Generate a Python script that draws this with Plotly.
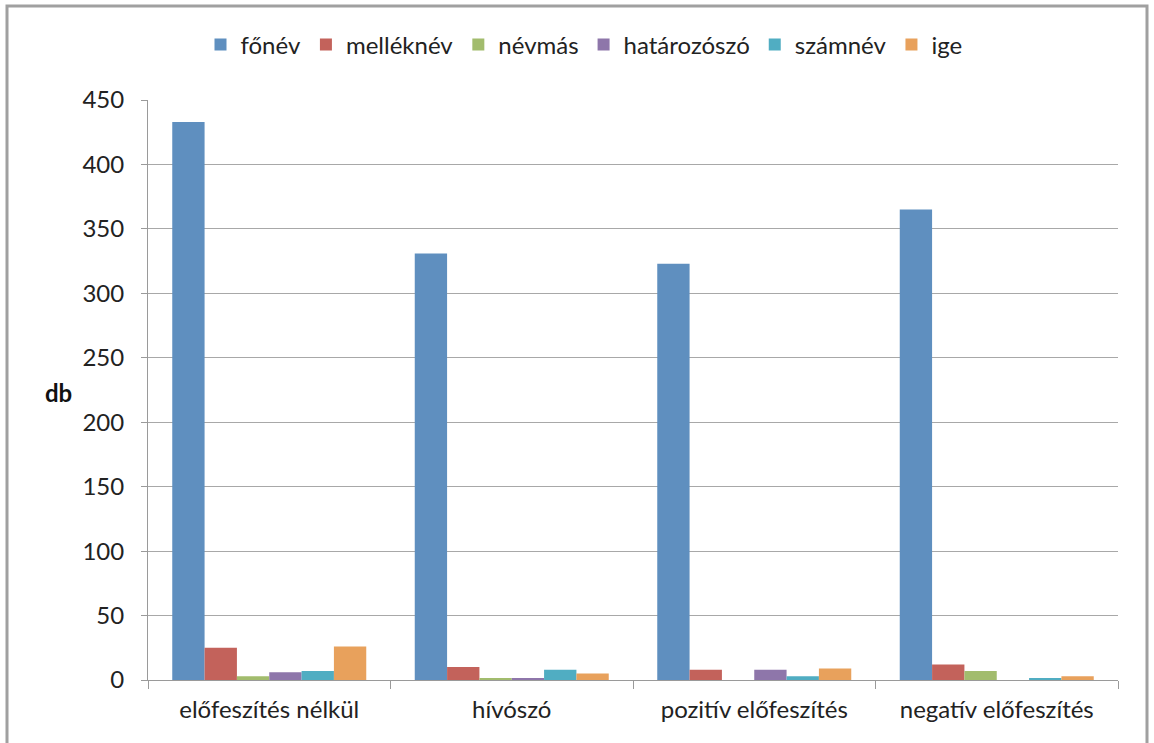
import plotly.graph_objects as go

categories = ["előfeszítés nélkül", "hívószó", "pozitív előfeszítés", "negatív előfeszítés"]
series_names = ["főnév", "melléknév", "névmás", "határozószó", "számnév", "ige"]
fonev = [433, 331, 323, 365]
melleknev = [25, 10, 8, 12]
nevmas = [3, 1, 0, 7]
hatarozoszo = [6, 1, 8, 0]
szamnev = [7, 8, 3, 1]
ige = [26, 5, 9, 3]
y_ticks = [0, 50, 100, 150, 200, 250, 300, 350, 400, 450]
y_title = "db"

series_values = [fonev, melleknev, nevmas, hatarozoszo, szamnev, ige]
colors = ["#5F8FBF", "#C3625B", "#A2BC6D", "#8E76AA", "#50ADC2", "#E8A15C"]

W, H = 1154, 743
L, R, T, B = 148, 36, 100, 63
pw, ph = W - L - R, H - T - B

fig = go.Figure()
for name, vals, c in zip(series_names, series_values, colors):
    fig.add_trace(go.Bar(name=name, x=categories, y=vals, marker_color=c,
                         marker_line_width=0))

font = "Lato, 'Open Sans', sans-serif"
fs = 24
fig.update_layout(
    width=W, height=H,
    margin=dict(l=L, r=R, t=T, b=B),
    paper_bgcolor="white", plot_bgcolor="white",
    barmode="group", bargap=0.2, bargroupgap=0,
    font=dict(family=font, size=fs, color="#222222"),
    legend=dict(orientation="h", x=(584 - L) / pw, xanchor="center", y=(ph + T - 45) / ph,
                yanchor="middle", font=dict(size=fs, color="#222222"),
                itemsizing="constant", tracegroupgap=0, itemwidth=30),
    showlegend=True,
)
fig.update_xaxes(
    showline=True, linecolor="#9a9a9a", linewidth=1,
    ticks="outside", tickson="boundaries", ticklen=8, tickcolor="#9a9a9a",
    ticklabelstandoff=8, showgrid=False,
    tickfont=dict(size=fs, color="#222222"),
)
fig.update_yaxes(
    range=[0, 450], tickvals=y_ticks,
    showline=True, linecolor="#9a9a9a", linewidth=1,
    ticks="outside", ticklen=6, tickcolor="#9a9a9a",
    ticklabelstandoff=12,
    showgrid=True, gridcolor="#a8a8a8", gridwidth=1,
    zeroline=False,
    tickfont=dict(size=fs, color="#222222"),
)
fig.add_annotation(text="<b>" + y_title + "</b>", xref="paper", yref="paper",
                   x=(58 - L) / pw, y=(H - B - 392) / ph, showarrow=False,
                   font=dict(size=fs, color="#111111"), xanchor="center", yanchor="middle")
fig.add_shape(type="rect", xref="paper", yref="paper",
              x0=(7 - L) / pw, x1=(1147 - L) / pw,
              y0=(H - B - 760) / ph, y1=(H - B - 6) / ph,
              line=dict(color="#a0a0a0", width=3), fillcolor="rgba(0,0,0,0)", layer="above")

fig.write_html("out.html")
